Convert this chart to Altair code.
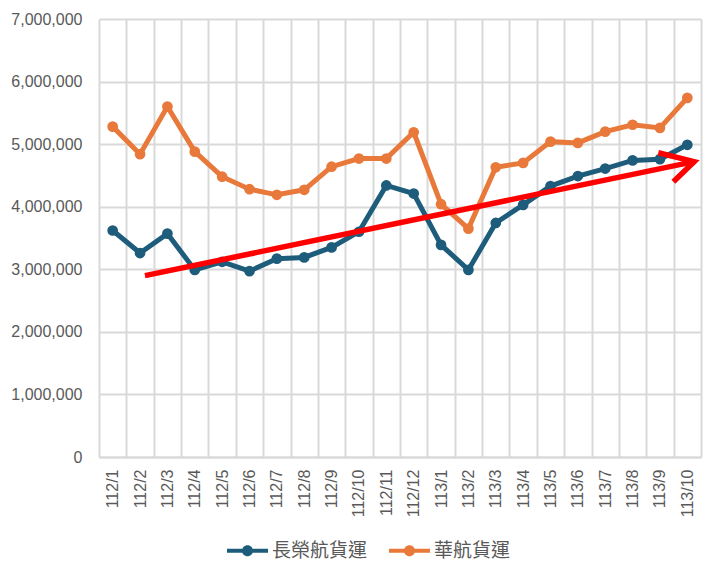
import altair as alt
import pandas as pd

months = ["112/1", "112/2", "112/3", "112/4", "112/5", "112/6", "112/7", "112/8",
          "112/9", "112/10", "112/11", "112/12", "113/1", "113/2", "113/3", "113/4",
          "113/5", "113/6", "113/7", "113/8", "113/9", "113/10"]

evergreen = [3620000, 3260000, 3570000, 2990000, 3120000, 2970000, 3170000, 3190000,
             3350000, 3600000, 4340000, 4210000, 3390000, 2990000, 3740000, 4030000,
             4330000, 4490000, 4610000, 4740000, 4760000, 4990000]

china_airlines = [5280000, 4840000, 5600000, 4880000, 4480000, 4280000, 4190000, 4270000,
                  4640000, 4770000, 4770000, 5190000, 4040000, 3650000, 4630000, 4700000,
                  5040000, 5020000, 5200000, 5310000, 5260000, 5740000]

series_names = ["長榮航貨運", "華航貨運"]
series_colors = ["#1d5c7a", "#e8793b"]

# trend arrow annotation (x in category units from left edge, y in value units)
arrow_seg = ["shaft", "shaft", "head", "head", "head"]
arrow_order = [0, 1, 0, 1, 2]
arrow_x = [1.68, 21.75, 20.44, 21.75, 20.99]
arrow_y = [2898000, 4720000, 4863000, 4720000, 4400000]

rows = []
for name, vals in zip(series_names, [evergreen, china_airlines]):
    for m, v in zip(months, vals):
        rows.append({"month": m, "value": v, "series": name})
df = pd.DataFrame(rows)

arrow_df = pd.DataFrame({"seg": arrow_seg, "ord": arrow_order, "ax": arrow_x, "value": arrow_y})

grid_color = "#d9d9d9"
text_color = "#595959"
font = "Liberation Sans, 'Noto Sans CJK TC', sans-serif"

y_scale = alt.Scale(domain=[0, 7000000], nice=False)
color_scale = alt.Scale(domain=series_names, range=series_colors)

x_enc = alt.X(
    "month:O",
    sort=months,
    bandPosition=0.5,
    scale=alt.Scale(type="band", paddingInner=0, paddingOuter=0),
    axis=alt.Axis(
        title=None, tickBand="extent", grid=True, gridColor=grid_color, gridWidth=2,
        ticks=False, domain=True, domainColor=grid_color, domainWidth=2,
        labelAngle=270, labelFontSize=16, labelColor=text_color, labelPadding=12,
        labelFont=font,
    ),
)
y_axis = alt.Axis(
    title=None, values=[0, 1000000, 2000000, 3000000, 4000000, 5000000, 6000000, 7000000],
    labelExpr="format(datum.value, ',')", grid=True, gridColor=grid_color, gridWidth=2,
    ticks=False, domain=False,
    labelFontSize=16, labelColor=text_color, labelPadding=17, labelFont=font,
)
y_enc = alt.Y("value:Q", scale=y_scale, axis=y_axis)

legend_path = ("M-1,-0.1L1,-0.1L1,0.1L-1,0.1Z "
               "M-0.27,0A0.27,0.27,0,1,1,0.27,0A0.27,0.27,0,1,1,-0.27,0Z")

legend = alt.Legend(
    title=None, orient="none", legendX=128, legendY=511, direction="horizontal",
    symbolType=legend_path, symbolSize=1681, symbolStrokeWidth=0,
    labelFontSize=19, labelColor=text_color, labelFont=font,
    labelOffset=4, columnPadding=21,
)

lines = alt.Chart(df).mark_line(strokeWidth=5).encode(
    x=x_enc,
    y=y_enc,
    color=alt.Color("series:N", scale=color_scale, legend=legend),
    detail="series:N",
)

points = alt.Chart(df).mark_circle(size=115, opacity=1).encode(
    x=x_enc,
    y=y_enc,
    color=alt.Color("series:N", scale=color_scale, legend=legend),
)

arrow = alt.Chart(arrow_df).mark_line(
    color="#ff0000", strokeWidth=5.5, strokeJoin="miter", strokeCap="butt"
).encode(
    x=alt.X("ax:Q", scale=alt.Scale(domain=[0, 22], nice=False, zero=False), axis=None),
    y=y_enc,
    detail="seg:N",
    order="ord:Q",
)

chart = (
    alt.layer(alt.layer(lines, points), arrow)
    .resolve_scale(x="independent")
    .properties(
        width=602, height=438,
        autosize=alt.AutoSizeParams(type="none"),
        padding={"left": 91, "top": 11, "right": 13, "bottom": 104},
    )
    .configure_view(stroke=grid_color, strokeWidth=2)
    .configure(font=font)
)

chart.save("out.html", embed_options={"renderer": "svg", "actions": False})
